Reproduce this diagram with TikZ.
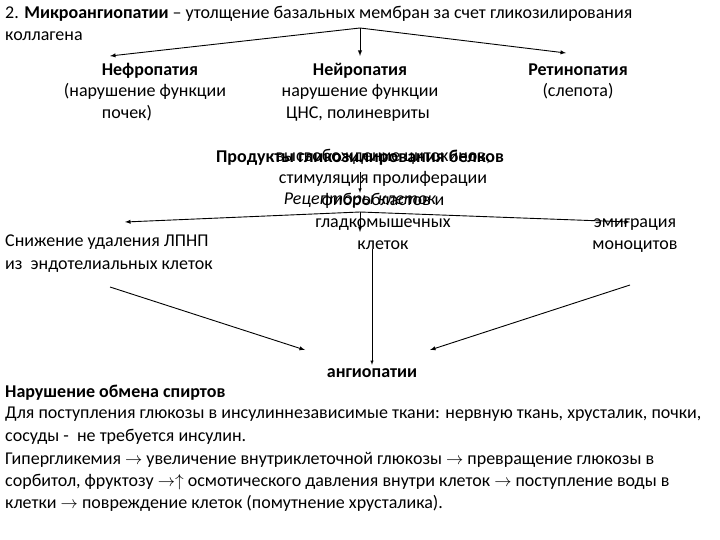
\documentclass[tikz,border=0pt]{standalone}
\usepackage{fontspec}
\setmainfont{Carlito}
\begin{document}
\begin{tikzpicture}[x=1pt,y=-1pt,
  txt/.style={inner sep=0pt,font=\fontsize{18}{21.8}\selectfont,text height=12pt,text depth=4pt},
  mtxt/.style={inner sep=0pt,font=\fontsize{18}{21.8}\selectfont,align=center},
  ar/.style={-latex,line width=0.9pt},
  bl/.style={txt,anchor=west}]
\useasboundingbox (0,0) rectangle (720,540);
\fill[white] (0,0) rectangle (720,540);
\def\ra{$\rightarrow$}
\node[bl] (t1) at (5,15) {2. \textbf{Микроангиопатии} – утолщение базальных мембран за счет гликозилирования};
\node[bl] (t2) at (5,37) {коллагена};
\coordinate (a1) at (360,28);
\coordinate (e1) at (110,56);
\coordinate (e2) at (360,56);
\coordinate (e3) at (566,53);
\draw[ar] (a1) -- (e1); \draw[ar] (a1) -- (e2); \draw[ar] (a1) -- (e3);
\node[txt] (n1) at (150,72) {\textbf{Нефропатия}};
\node[txt] (n1b) at (145,93) {(нарушение функции};
\node[txt] (n1c) at (127,115) {почек)};
\node[txt] (n2) at (360,72) {\textbf{Нейропатия}};
\node[txt] (n2b) at (360,93) {нарушение функции};
\node[txt] (n2c) at (358,115) {ЦНС, полиневриты};
\node[txt] (n3) at (578,72) {\textbf{Ретинопатия}};
\node[txt] (n3b) at (578,93) {(слепота)};
\node[txt] (p) at (360,159) {\textbf{Продукты гликозилирования белков}};
\node[txt] (r) at (360,201) {\textit{Рецепторы клеток}};
\draw[ar,line width=0.5pt] (360,172) -- (r.north);
\coordinate (a2) at (360,212);
\coordinate (f1) at (125,222);
\coordinate (f2) at (360,232);
\coordinate (f3) at (630,222);
\draw[ar] (a2) -- (f1); \draw[ar] (a2) -- (f2); \draw[ar] (a2) -- (f3);
\node[bl] (l1) at (5,243) {Снижение удаления ЛПНП};
\node[bl] (l2) at (5,265) {из\ \ эндотелиальных клеток};
\node[mtxt,anchor=base] (m) at (383,249) {высвобождение цитокинов,\\стимуляция пролиферации\\фибробластов и\\гладкомышечных\\клеток};
\node[mtxt,anchor=base] (rt) at (635,249) {эмиграция\\моноцитов};
\node[txt] (ang) at (372,373) {\textbf{ангиопатии}};
\coordinate (s1) at (110,287);
\coordinate (s3) at (630,285);
\draw[ar] (s1) -- (305,350);
\draw[ar] (s3) -- (430,350);
\draw[ar,line width=0.5pt] (m.south) ++(-11,0) -- (ang.north);
\node[bl] (b1) at (5,393) {\textbf{Нарушение обмена спиртов}};
\node[bl] (b2) at (5,414) {Для поступления глюкозы в инсулиннезависимые ткани: нервную ткань, хрусталик, почки,};
\node[bl] (b3) at (5,437) {сосуды -\ \ не требуется инсулин.};
\node[bl] (b4) at (5,460) {Гипергликемия \ra\ увеличение внутриклеточной глюкозы \ra\ превращение глюкозы в};
\node[bl] (b5) at (5,482) {сорбитол, фруктозу \ra$\uparrow$ осмотического давления внутри клеток \ra\ поступление воды в};
\node[bl] (b6) at (5,504) {клетки \ra\ повреждение клеток (помутнение хрусталика).};
\end{tikzpicture}
\end{document}
